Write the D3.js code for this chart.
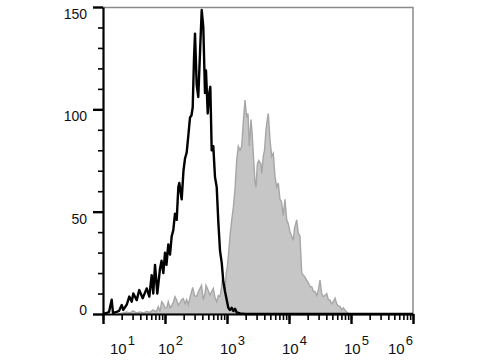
<!DOCTYPE html>
<html>
<head>
<meta charset="utf-8">
<script src="https://cdn.jsdelivr.net/npm/d3@7"></script>
<style>
  body { margin: 0; background: #fff; }
  svg { display: block; font-family: "Liberation Sans", Arial, sans-serif; }
</style>
</head>
<body>
<div id="plot"></div>
<script>
// ############ DATA ###############

// isotype control (black outline), x in decades (log10 of intensity), y = count
const isoExp = [1.000, 1.060, 1.097, 1.140, 1.161, 1.221, 1.258, 1.302, 1.327, 1.382,
  1.424, 1.463, 1.489, 1.544, 1.585, 1.640, 1.705, 1.747, 1.785, 1.811,
  1.839, 1.876, 1.919, 1.944, 1.973, 2.000, 2.024, 2.053, 2.081, 2.108,
  2.134, 2.161, 2.189, 2.215, 2.231, 2.269, 2.298, 2.323, 2.350, 2.379,
  2.403, 2.427, 2.447, 2.468, 2.484, 2.511, 2.537, 2.565, 2.592, 2.618,
  2.645, 2.661, 2.689, 2.714, 2.731, 2.753, 2.779, 2.806, 2.834, 2.860,
  2.887, 2.915, 2.940, 2.968, 2.995, 3.021, 3.048, 3.076, 3.102, 3.129,
  3.156, 3.210, 3.290, 6.000];
const isoCount = [0, 0.5, 1, 7, 0.5, 1, 1.5, 4.4, 2, 4.5,
  8.5, 6, 10, 6.8, 11.7, 7.7, 12.5, 8.5, 19, 10,
  24, 10, 22, 26, 20, 30, 24, 34, 29, 38,
  41, 49, 46, 62, 64, 56, 70, 76, 79, 88,
  96, 97, 101, 125, 137, 112, 106, 128, 148.5, 140,
  108, 119, 98, 108, 111, 80, 82, 67, 62, 45,
  31, 25, 16, 11, 7, 3, 2, 3, 1.5, 2.5,
  0.8, 0.3, 0, 0];

// stained sample (grey filled)
const stainExp = [1.242, 1.323, 1.382, 1.435, 1.484, 1.540, 1.597, 1.653, 1.705, 1.758,
  1.806, 1.855, 1.892, 1.919, 1.947, 1.973, 2.000, 2.027, 2.053, 2.081,
  2.108, 2.137, 2.161, 2.185, 2.215, 2.242, 2.269, 2.295, 2.323, 2.350,
  2.376, 2.411, 2.447, 2.476, 2.511, 2.540, 2.565, 2.589, 2.618, 2.645,
  2.661, 2.694, 2.726, 2.753, 2.779, 2.806, 2.834, 2.860, 2.887, 2.911,
  2.931, 2.952, 2.968, 2.987, 3.005, 3.021, 3.048, 3.076, 3.102, 3.129,
  3.156, 3.182, 3.210, 3.237, 3.266, 3.290, 3.318, 3.339, 3.360, 3.387,
  3.406, 3.424, 3.452, 3.468, 3.489, 3.511, 3.544, 3.560, 3.585, 3.605,
  3.629, 3.650, 3.666, 3.694, 3.721, 3.747, 3.774, 3.802, 3.827, 3.855,
  3.879, 3.908, 3.935, 3.963, 3.989, 4.016, 4.044, 4.069, 4.089, 4.124,
  4.150, 4.177, 4.205, 4.231, 4.258, 4.285, 4.315, 4.339, 4.366, 4.395,
  4.419, 4.447, 4.476, 4.500, 4.527, 4.553, 4.581, 4.608, 4.634, 4.661,
  4.689, 4.715, 4.742, 4.769, 4.795, 4.823, 4.850, 4.876, 4.903, 4.931,
  4.956, 4.984];
const stainCount = [0, 0.5, 1, 0.5, 1.5, 0.5, 1, 0.5, 1.2, 0.8,
  2, 1, 3.6, 1.2, 6, 5, 3, 3, 6, 3,
  4, 6, 8.5, 7, 4.4, 5.4, 7, 7.5, 5, 7,
  4.5, 9, 13, 9, 8.5, 11, 12.5, 14, 7, 10,
  14, 11.7, 9.3, 11, 12.5, 8, 6, 9, 8.5, 13,
  18, 13, 11, 20, 23, 28, 38, 46, 52, 61,
  75, 82, 80, 82, 95, 104.5, 96, 98, 82, 95,
  88, 78.5, 64, 62, 73, 75, 73.5, 68.5, 77, 80,
  90, 95, 98, 85, 77, 78.5, 67, 62, 64, 56,
  55, 48, 56, 46, 44, 40, 38, 36, 42, 46,
  39.4, 38, 20, 19, 18, 16.6, 15, 13.4, 13.4, 11,
  11, 9, 12, 16.6, 10, 8.5, 9, 10, 7, 6.8,
  5, 6, 7.7, 5, 4, 3.6, 2, 3, 2, 1,
  0.3, 0];

// tick labels
const xDecades = [1, 2, 3, 4, 5, 6];
const yMajor = [0, 50, 100, 150];
const yMinor = [10, 20, 30, 40, 60, 70, 80, 90, 110, 120, 130, 140];

// ############ SETUP ###############

const w = 480, h = 360;
const margin = {top: 7, right: 67, bottom: 46, left: 103};
const innerWidth = w - margin.left - margin.right;
const innerHeight = h - margin.top - margin.bottom;

const xScale = d3.scaleLog()
  .domain([10, 1e6])
  .range([0, innerWidth]);

const yScale = d3.scaleLinear()
  .domain([0, 150])
  .range([innerHeight, 0]);

const iso = isoExp.map((e, i) => ({x: Math.pow(10, e), y: isoCount[i]}));
const stain = stainExp.map((e, i) => ({x: Math.pow(10, e), y: stainCount[i]}));

const svg = d3.select("div#plot")
  .append("svg")
  .attr("width", w)
  .attr("height", h);

const plot = svg.append("g")
  .attr("id", "plotarea")
  .attr("transform", `translate( ${margin.left}, ${margin.top} )`);

// frame (top and right)
plot.append("path")
  .attr("d", `M0,0.5 H${innerWidth} V${innerHeight}`)
  .attr("fill", "none")
  .attr("stroke", "#8a8a8a")
  .attr("stroke-width", 1.5);

// grey filled histogram
plot.append("path")
  .datum(stain)
  .attr("d", d3.area()
    .x(d => xScale(d.x))
    .y0(innerHeight)
    .y1(d => yScale(d.y)))
  .attr("fill", "#c6c6c6")
  .attr("stroke", "#a6a6a6")
  .attr("stroke-width", 1.4);

// black isotype line
plot.append("path")
  .datum(iso)
  .attr("d", d3.line()
    .x(d => xScale(d.x))
    .y(d => yScale(d.y)))
  .attr("fill", "none")
  .attr("stroke", "#000")
  .attr("stroke-width", 2.4)
  .attr("stroke-linejoin", "round");

// ############ AXES ###############

// x-axis minor ticks (log 2..9 per decade)
plot.append("g")
  .attr("transform", `translate(0, ${innerHeight})`)
  .call(d3.axisBottom(xScale).tickValues(xScale.ticks()).tickSize(6).tickFormat(""))
  .call(g => g.select(".domain").remove())
  .call(g => g.selectAll(".tick line").attr("stroke-width", 1.6));

// x-axis major ticks
plot.append("g")
  .attr("id", "xaxis")
  .attr("transform", `translate(0, ${innerHeight})`)
  .call(d3.axisBottom(xScale).tickValues(xDecades.map(d => Math.pow(10, d))).tickSize(10).tickSizeOuter(0).tickFormat(""))
  .call(g => g.select(".domain").attr("stroke-width", 2.2))
  .call(g => g.selectAll(".tick line").attr("stroke-width", 2.4));

// x labels as 10 with superscript
const xlab = plot.append("g")
  .selectAll("text")
  .data(xDecades)
  .enter()
  .append("text")
    .attr("x", d => Math.min(Math.max(xScale(Math.pow(10, d)) - 7, 7), innerWidth - 25))
    .attr("y", innerHeight + 40)
    .attr("font-size", 15)
    .attr("fill", "#111");
xlab.append("tspan").text("10");
xlab.append("tspan")
  .attr("dx", 1)
  .attr("dy", -9)
  .attr("font-size", 13)
  .text(d => d);

// y-axis minor ticks
plot.append("g")
  .call(d3.axisLeft(yScale).tickValues(yMinor).tickSize(5).tickFormat(""))
  .call(g => g.select(".domain").remove())
  .call(g => g.selectAll(".tick line").attr("stroke-width", 1.6));

// y-axis major ticks
plot.append("g")
  .attr("id", "yaxis")
  .call(d3.axisLeft(yScale).tickValues(yMajor).tickSize(10).tickSizeOuter(0).tickFormat(""))
  .call(g => g.select(".domain").attr("stroke-width", 2.2))
  .call(g => g.selectAll(".tick line").attr("stroke-width", 2.4));

plot.append("g")
  .selectAll("text")
  .data(yMajor)
  .enter()
  .append("text")
    .attr("x", -16)
    .attr("y", d => Math.min(yScale(d) + 7, innerHeight - 4) + 5)
    .attr("text-anchor", "end")
    .attr("font-size", 14)
    .attr("fill", "#111")
    .text(d => d);
</script>
</body>
</html>
